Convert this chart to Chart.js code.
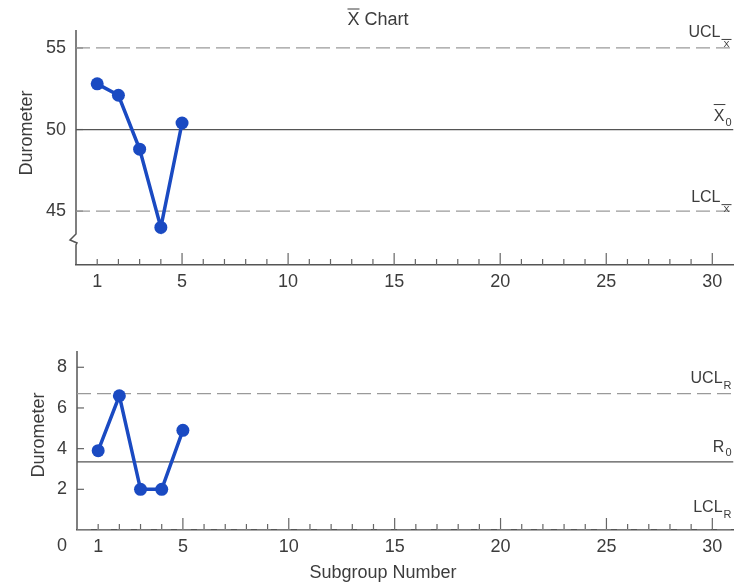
<!DOCTYPE html>
<html>
<head>
<meta charset="utf-8">
<title>X-bar and R Chart</title>
<script src="https://cdn.jsdelivr.net/npm/chart.js@4.4.1/dist/chart.umd.min.js"></script>
<style>
  body { margin: 0; background: #fff; }
  .box { position: absolute; left: 0; width: 740px; }
</style>
</head>
<body>
<div class="box" style="top:0;height:290px"><canvas id="xbarChart"></canvas></div>
<div class="box" style="top:290px;height:293px"><canvas id="rChart"></canvas></div>
<script>
// subgroups and what was measured
const subgroups = [1, 2, 3, 4, 5];
const xbarValues = [52.8, 52.1, 48.8, 44.0, 50.4];
const rangeValues = [3.9, 6.6, 2.0, 2.0, 4.9];

// control limits: UCL, centre, LCL
const xbarLimits = [55, 50, 45];
const rangeLimits = [6.7, 3.35, 0];

// tick labels
const xTicks = [1, 5, 10, 15, 20, 25, 30];
const xbarTicks = [45, 50, 55];
const rangeTicks = [2, 4, 6, 8];

const FONT = "'Liberation Sans', Arial, sans-serif";
const TEXT = '#3c3c3c';
const BLUE = '#1a4ac2';
const AXIS = '#555';

// tekst met subscript (en eventueel streep erboven)
function drawLabel(ctx, right, base, lbl) {
    var subSize = lbl.subSize || 11;
    ctx.save();
    ctx.fillStyle = TEXT;
    ctx.strokeStyle = TEXT;
    ctx.lineWidth = 1;
    ctx.textAlign = 'left';
    ctx.textBaseline = 'alphabetic';
    ctx.font = subSize + 'px ' + FONT;
    var subW = ctx.measureText(lbl.sub).width;
    var slot = lbl.subBar ? 10 : subW;
    ctx.font = '16px ' + FONT;
    var mainW = ctx.measureText(lbl.main).width;
    var x0 = right - slot - mainW - 1;
    ctx.fillText(lbl.main, x0, base);
    if (lbl.mainBar) {
        ctx.beginPath();
        ctx.moveTo(x0, base - 16);
        ctx.lineTo(x0 + mainW + 1, base - 16);
        ctx.stroke();
    }
    var sx = x0 + mainW + 1;
    ctx.font = subSize + 'px ' + FONT;
    ctx.fillText(lbl.sub, sx + (slot - subW) / 2, base + lbl.drop);
    if (lbl.subBar) {
        ctx.beginPath();
        ctx.moveTo(sx, base + 2.5);
        ctx.lineTo(sx + slot, base + 2.5);
        ctx.stroke();
    }
    ctx.restore();
}

function buildChart(id, values, limits, yTicks, set) {
    var points = subgroups.map((s, i) => ({ x: s, y: values[i] }));
    var limitSets = limits.map((v, i) => ({
        data: [{ x: 0, y: v }, { x: 31, y: v }],
        borderColor: i === 1 ? '#555' : '#9a9a9a',
        borderWidth: i === 1 ? 1.3 : 1.2,
        borderDash: i === 1 ? [] : [14, 6],
        pointRadius: 0,
        order: 1
    }));

    var decor = {
        id: 'decor',
        beforeDatasetsDraw(chart) {
            var ctx = chart.ctx;
            var area = chart.chartArea;
            var xs = chart.scales.x, ys = chart.scales.y;
            ctx.save();
            ctx.strokeStyle = '#666';
            ctx.lineWidth = 1.2;
            // ticks naar binnen
            for (let v = 1; v <= 30; v++) {
                var px = xs.getPixelForValue(v);
                ctx.beginPath();
                ctx.moveTo(px, area.bottom);
                ctx.lineTo(px, area.bottom - (v % 5 === 0 ? 12 : 6));
                ctx.stroke();
            }
            yTicks.forEach(v => {
                var py = ys.getPixelForValue(v);
                ctx.beginPath();
                ctx.moveTo(area.left, py);
                ctx.lineTo(area.left + 7, py);
                ctx.stroke();
            });
            // y-as, met breuk als dat nodig is
            ctx.strokeStyle = AXIS;
            ctx.lineWidth = 1.5;
            ctx.beginPath();
            ctx.moveTo(area.left, area.top);
            if (set.breakAt) {
                var b = set.breakAt;
                ctx.lineTo(area.left, b);
                ctx.lineTo(area.left - 6, b + 6);
                ctx.lineTo(area.left + 1, b + 9);
                ctx.lineTo(area.left, b + 11);
            }
            ctx.lineTo(area.left, area.bottom);
            ctx.stroke();
            ctx.restore();
        },
        afterDraw(chart) {
            var ctx = chart.ctx;
            var area = chart.chartArea;
            var ys = chart.scales.y;
            set.labels.forEach((lbl, i) => {
                drawLabel(ctx, area.right - 2, ys.getPixelForValue(limits[i]) - lbl.up, lbl);
            });
            ctx.save();
            ctx.fillStyle = TEXT;
            ctx.strokeStyle = TEXT;
            ctx.lineWidth = 1;
            ctx.font = '18px ' + FONT;
            ctx.textBaseline = 'alphabetic';
            // titel
            var w = ctx.measureText(set.title).width;
            var tx = set.titleX - w / 2;
            ctx.textAlign = 'left';
            ctx.fillText(set.title, tx, set.titleY);
            if (set.titleBar) {
                var xw = ctx.measureText('X').width;
                ctx.beginPath();
                ctx.moveTo(tx, set.titleY - 16);
                ctx.lineTo(tx + xw, set.titleY - 16);
                ctx.stroke();
            }
            // as-titels
            ctx.textAlign = 'center';
            ctx.textBaseline = 'middle';
            ctx.save();
            ctx.translate(set.yTitleX, set.yTitleY);
            ctx.rotate(-Math.PI / 2);
            ctx.fillText('Durometer', 0, 0);
            ctx.restore();
            if (set.xTitle) {
                ctx.textBaseline = 'alphabetic';
                ctx.fillText(set.xTitle, 383, chart.height - 5);
            }
            if (set.zeroLabel) {
                ctx.textBaseline = 'middle';
                ctx.fillText('0', 62, area.bottom + 16);
            }
            ctx.restore();
        }
    };

    return new Chart(document.getElementById(id), {
        type: 'line',
        data: {
            datasets: [{
                data: points,
                borderColor: BLUE,
                backgroundColor: BLUE,
                borderWidth: 3.5,
                pointRadius: 6.5,
                pointBorderWidth: 0,
                order: 0
            }].concat(limitSets)
        },
        options: {
            responsive: true,
            maintainAspectRatio: false,
            animation: false,
            layout: { padding: { top: set.top, right: set.right, left: 0, bottom: 0 } },
            plugins: { legend: { display: false }, tooltip: { enabled: false } },
            scales: {
                x: {
                    type: 'linear',
                    min: 0,
                    max: 31,
                    afterBuildTicks: s => { s.ticks = xTicks.map(v => ({ value: v })); },
                    afterFit: s => { s.height = set.xHeight; },
                    grid: { display: false, drawTicks: false },
                    border: { display: true, color: AXIS, width: 1.5 },
                    ticks: { color: TEXT, font: { family: FONT, size: 18 }, padding: 6, maxRotation: 0 }
                },
                y: {
                    min: set.yMin,
                    max: set.yMax,
                    afterBuildTicks: s => { s.ticks = yTicks.map(v => ({ value: v })); },
                    afterFit: s => { s.width = set.yWidth; },
                    grid: { display: false, drawTicks: false },
                    border: { display: false },
                    ticks: { color: TEXT, font: { family: FONT, size: 18 }, padding: 10 }
                }
            }
        },
        plugins: [decor]
    });
}

buildChart('xbarChart', xbarValues, xbarLimits, xbarTicks, {
    top: 30, right: 5, xHeight: 25, yWidth: 76, yMin: 41.7, yMax: 56.1,
    breakAt: 234,
    title: 'X Chart', titleBar: true, titleX: 378, titleY: 25,
    yTitleX: 27, yTitleY: 133,
    labels: [
        { main: 'UCL', sub: 'X', subBar: true, subSize: 9, up: 11, drop: 10 },
        { main: 'X', sub: '0', mainBar: true, up: 9, drop: 5 },
        { main: 'LCL', sub: 'X', subBar: true, subSize: 9, up: 9, drop: 10 }
    ]
});

buildChart('rChart', rangeValues, rangeLimits, rangeTicks, {
    top: 61, right: 3, xHeight: 53, yWidth: 77, yMin: 0, yMax: 8.8,
    title: 'R Chart', titleBar: false, titleX: 382, titleY: 349,
    yTitleX: 39, yTitleY: 145,
    xTitle: 'Subgroup Number', zeroLabel: true,
    labels: [
        { main: 'UCL', sub: 'R', up: 11, drop: 6 },
        { main: 'R', sub: '0', up: 10, drop: 4 },
        { main: 'LCL', sub: 'R', up: 18, drop: 6 }
    ]
});
</script>
</body>
</html>
